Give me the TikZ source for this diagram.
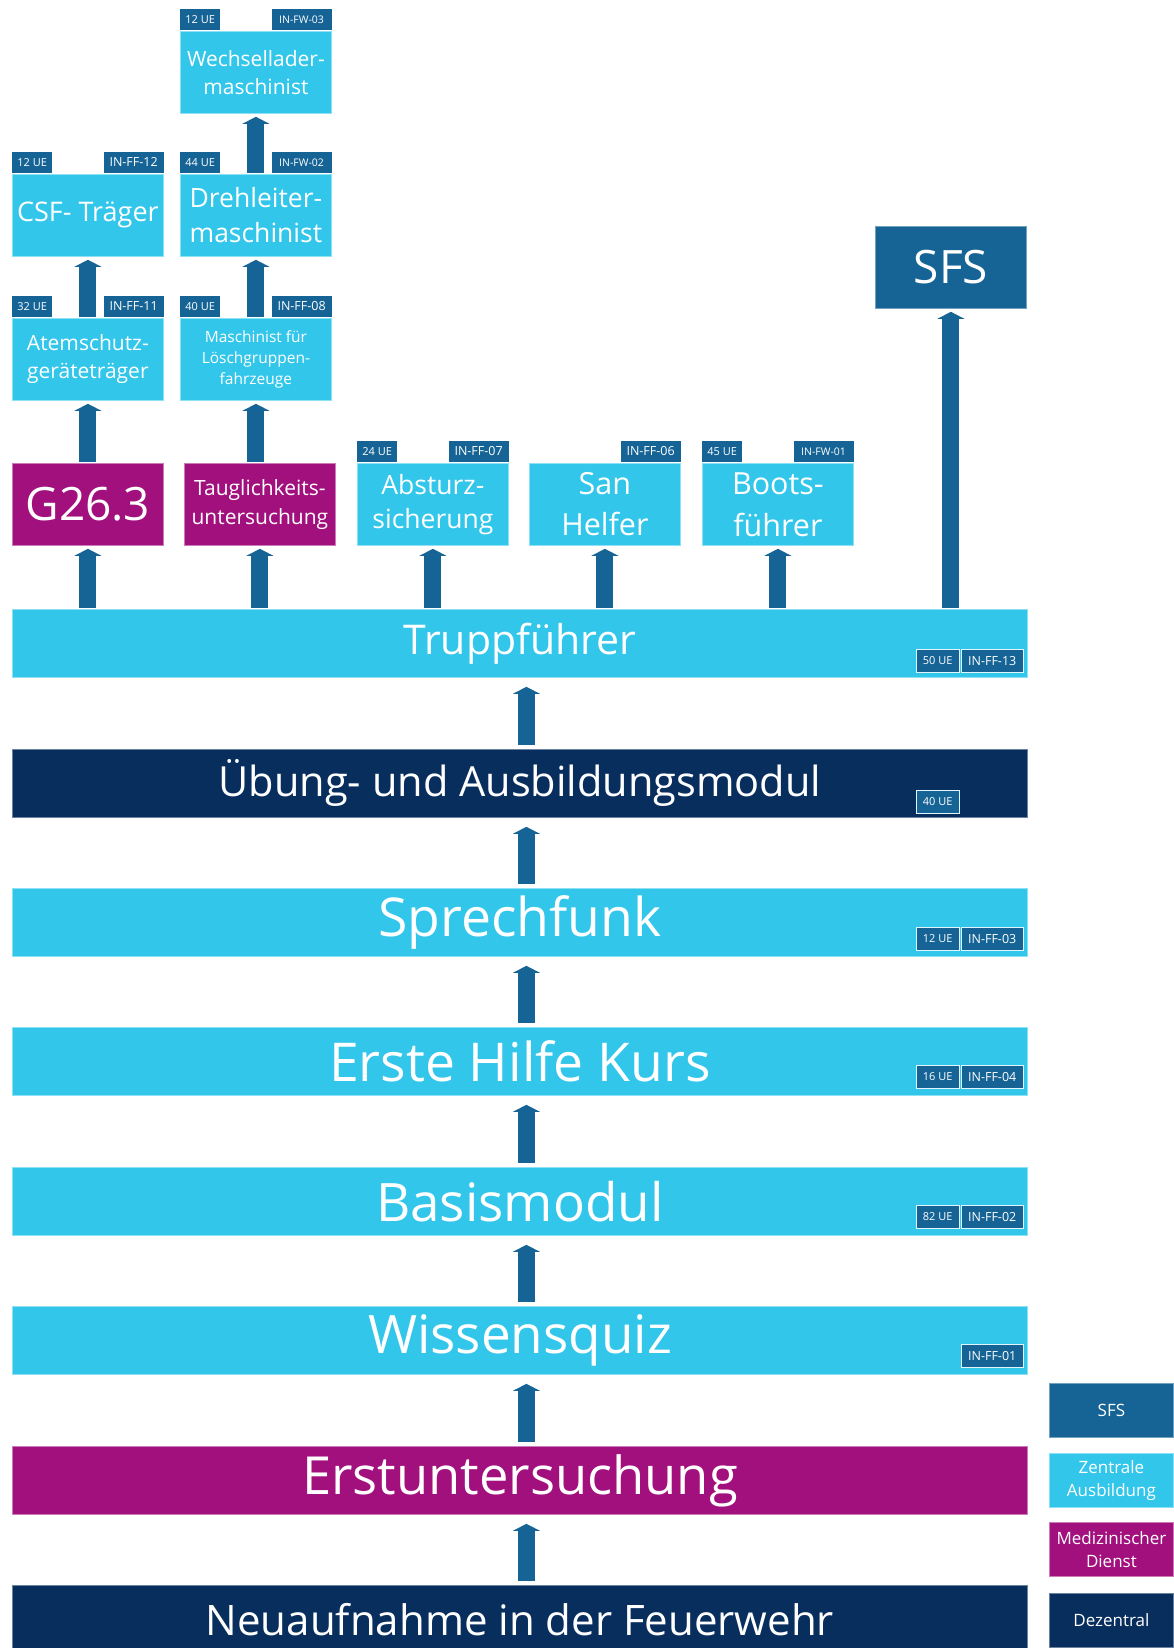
\documentclass[tikz,border=0pt]{standalone}
\usepackage{fontspec}
\setmainfont{Open Sans}
\usetikzlibrary{arrows.meta}
\definecolor{zentral}{RGB}{50,198,235}
\definecolor{sfsblau}{RGB}{22,100,150}
\definecolor{medizin}{RGB}{162,16,126}
\definecolor{dezentral}{RGB}{8,46,94}
\newcommand{\fsz}[2]{\fontsize{#1}{#2}\selectfont}

\begin{document}
\begin{tikzpicture}[x=1pt,y=-1pt,
  box/.style={anchor=north west,inner sep=0pt,align=center,text=white,minimum width=151pt,minimum height=82pt,line width=0.8pt},
  zbox/.style={box,fill=zentral,draw=zentral!55!white},
  mbox/.style={box,fill=medizin,draw=medizin!55!white},
  sbox/.style={box,fill=sfsblau,draw=sfsblau!60!white},
  dbox/.style={box,fill=dezentral,draw=dezentral!60!white},
  bar/.style={minimum width=1015pt,minimum height=68pt},
  legend/.style={minimum width=124pt,minimum height=54pt,font=\fsz{17}{23}},
  tag/.style={inner sep=0pt,minimum height=21pt,fill=sfsblau,text=white,font=\fsz{11}{13}},
  uetag/.style={tag,minimum width=40pt,anchor=south west},
  idtag/.style={tag,minimum width=60pt,anchor=south east,font=\fsz{12.5}{14}},
  fwtag/.style={idtag,font=\fsz{10.5}{12}},
  bartag/.style={tag,minimum height=23pt,draw=white!85!zentral,line width=1.2pt,anchor=south east},
  up/.style={draw=sfsblau,line width=17pt,-{Triangle[width=27pt,length=7pt,line width=0pt]},shorten >=3pt,shorten <=1pt},
  barup/.style={up,shorten >=9pt,shorten <=4pt}]
\useasboundingbox (0,0) rectangle (1174,1648);

\node[zbox,font=\fsz{21}{28}] (wechs) at (180,31) {Wechsellader-\\maschinist};
\node[uetag] (wechsue) at ([yshift=1pt]wechs.north west) {12 UE};
\node[fwtag] (wechsid) at ([yshift=1pt]wechs.north east) {IN-FW-03};

\node[zbox,font=\fsz{27}{32}] (csf) at (12,174) {CSF- Träger};
\node[uetag] (csfue) at ([yshift=1pt]csf.north west) {12 UE};
\node[idtag] (csfid) at ([yshift=1pt]csf.north east) {IN-FF-12};
\node[zbox,font=\fsz{26.5}{35}] (dreh) at (180,174) {Drehleiter-\\maschinist};
\node[uetag] (dreue) at ([yshift=1pt]dreh.north west) {44 UE};
\node[fwtag] (drehid) at ([yshift=1pt]dreh.north east) {IN-FW-02};

\node[zbox,font=\fsz{21}{28}] (atem) at (12,318) {Atemschutz-\\geräteträger};
\node[uetag] (atemue) at ([yshift=1pt]atem.north west) {32 UE};
\node[idtag] (atemid) at ([yshift=1pt]atem.north east) {IN-FF-11};
\node[zbox,font=\fsz{15.5}{21}] (masch) at (180,318) {Maschinist für\\Löschgruppen-\\fahrzeuge};
\node[uetag] (maschue) at ([yshift=1pt]masch.north west) {40 UE};
\node[idtag] (maschid) at ([yshift=1pt]masch.north east) {IN-FF-08};

\node[mbox,font=\fsz{46}{50}] (gsechs) at (12,463) {G26.3};
\node[mbox,font=\fsz{21}{29}] (taugl) at (184,463) {Tauglichkeits-\\untersuchung};
\node[zbox,font=\fsz{26.5}{34}] (absturz) at (357,463) {Absturz-\\sicherung};
\node[uetag] (absturzue) at ([yshift=1pt]absturz.north west) {24 UE};
\node[idtag] (absturzid) at ([yshift=1pt]absturz.north east) {IN-FF-07};
\node[zbox,font=\fsz{30.5}{41}] (san) at (529,463) {San\\Helfer};
\node[idtag] (sanid) at ([yshift=1pt]san.north east) {IN-FF-06};
\node[zbox,font=\fsz{30.5}{42}] (boots) at (702,463) {Boots-\\führer};
\node[uetag] (bootsue) at ([yshift=1pt]boots.north west) {45 UE};
\node[fwtag] (bootsid) at ([yshift=1pt]boots.north east) {IN-FW-01};
\node[sbox,font=\fsz{46}{50}] (sfs) at (875,226) {SFS};

\node[zbox,bar,font=\fsz{41}{48}] (trupp) at (12,609) {Truppführer};
\node[bartag,minimum width=43pt] (truppue) at ([xshift=-68pt,yshift=5pt]trupp.south east) {50 UE};
\node[bartag,minimum width=62pt,font=\fsz{12.5}{14}] (truppid) at ([xshift=-4pt,yshift=5pt]trupp.south east) {IN-FF-13};
\node[dbox,bar,font=\fsz{41.5}{48}] (uebung) at (12,749) {Übung- und Ausbildungsmodul};
\node[bartag,minimum width=43pt] (uebungue) at ([xshift=-68pt,yshift=4pt]uebung.south east) {40 UE};
\node[zbox,bar,font=\fsz{53.5}{60}] (sprech) at (12,888) {Sprechfunk};
\node[bartag,minimum width=43pt] (sprechue) at ([xshift=-68pt,yshift=6pt]sprech.south east) {12 UE};
\node[bartag,minimum width=62pt,font=\fsz{12.5}{14}] (sprechid) at ([xshift=-4pt,yshift=6pt]sprech.south east) {IN-FF-03};
\node[zbox,bar,font=\fsz{53.5}{60}] (erste) at (12,1027) {Erste Hilfe Kurs};
\node[bartag,minimum width=43pt] (ersteue) at ([xshift=-68pt,yshift=7pt]erste.south east) {16 UE};
\node[bartag,minimum width=62pt,font=\fsz{12.5}{14}] (ersteid) at ([xshift=-4pt,yshift=7pt]erste.south east) {IN-FF-04};
\node[zbox,bar,font=\fsz{53}{60}] (basis) at (12,1167) {Basismodul};
\node[bartag,minimum width=43pt] (basisue) at ([xshift=-68pt,yshift=7pt]basis.south east) {82 UE};
\node[bartag,minimum width=62pt,font=\fsz{12.5}{14}] (basisid) at ([xshift=-4pt,yshift=7pt]basis.south east) {IN-FF-02};
\node[zbox,bar,font=\fsz{53}{60}] (wissen) at (12,1306) {Wissensquiz};
\node[bartag,minimum width=62pt,font=\fsz{12.5}{14}] (wissenid) at ([xshift=-4pt,yshift=7pt]wissen.south east) {IN-FF-01};
\node[mbox,bar,font=\fsz{52.5}{60}] (erstu) at (12,1446) {Erstuntersuchung};
\node[dbox,bar,font=\fsz{42}{48}] (neu) at (12,1585) {Neuaufnahme in der Feuerwehr};

\node[sbox,legend] (legsfs) at (1049,1383) {SFS};
\node[zbox,legend] (legzentral) at (1049,1453) {Zentrale\\Ausbildung};
\node[mbox,legend] (legmedizin) at (1049,1522) {Medizinischer\\Dienst};
\node[dbox,legend] (legdezentral) at (1049,1593) {Dezentral};

\draw[barup] ([xshift=6.5pt]neu.north) -- ([xshift=6.5pt]erstu.south);
\draw[barup] ([xshift=6.5pt]erstu.north) -- ([xshift=6.5pt]wissen.south);
\draw[barup] ([xshift=6.5pt]wissen.north) -- ([xshift=6.5pt]basis.south);
\draw[barup] ([xshift=6.5pt]basis.north) -- ([xshift=6.5pt]erste.south);
\draw[barup] ([xshift=6.5pt]erste.north) -- ([xshift=6.5pt]sprech.south);
\draw[barup] ([xshift=6.5pt]sprech.north) -- ([xshift=6.5pt]uebung.south);
\draw[barup] ([xshift=6.5pt]uebung.north) -- ([xshift=6.5pt]trupp.south);

\draw[up] (gsechs |- trupp.north) -- (gsechs.south);
\draw[up] (taugl |- trupp.north) -- (taugl.south);
\draw[up] (absturz |- trupp.north) -- (absturz.south);
\draw[up] (san |- trupp.north) -- (san.south);
\draw[up] (boots |- trupp.north) -- (boots.south);
\draw[up] (sfs |- trupp.north) -- (sfs.south);
\draw[up] (gsechs.north) -- (atem.south);
\draw[up] (masch |- taugl.north) -- (masch.south);
\draw[up] (atem.north) -- (csf.south);
\draw[up] (masch.north) -- (dreh.south);
\draw[up] (dreh.north) -- (wechs.south);
\end{tikzpicture}
\end{document}
